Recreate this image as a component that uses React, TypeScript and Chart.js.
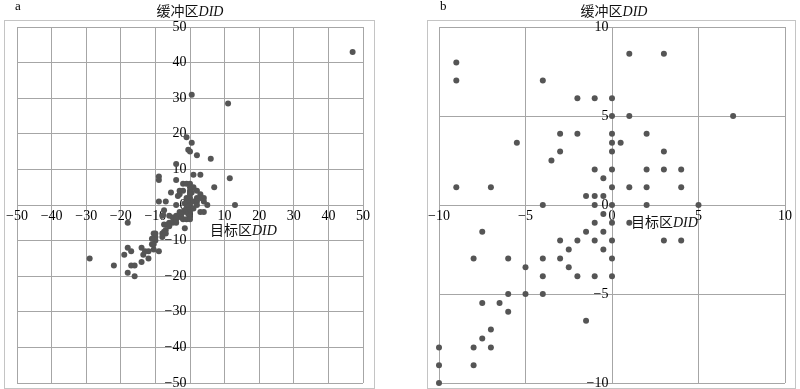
import React, { useEffect, useRef } from 'react';
import { Chart, registerables } from 'chart.js';

Chart.register(...registerables);

// Points inside the ±10 window (shown in both panels)
const innerX = [
  -9, -9, -4, -2, -1, 0, 1, 3, 0, 1, 7, -3, -2, 0, 2, -5.5, 0, 0.5, -3, 0, 3, -3.5,
  -1, 0, 2, 3, 4, -0.5, -9, -7, 0, 1, 2, 4, -1.5, -1, -0.5, -4, -1, 0, 2, 5,
  -0.5, -1, 0, 1, -7.5, -1.5, -0.5, -3, -2, -1, 0, 3, 4, -2.5, -0.5, -8, -6, -4, -3, 0,
  -5, -2.5, -4, -2, -1, 0, -6, -5, -4, -7.5, -6.5, -6, -1.5, -7, -7.5, -10, -8, -7, -10, -8, -10,
];
const innerY = [
  8, 7, 7, 6, 6, 6, 8.5, 8.5, 5, 5, 5, 4, 4, 4, 4, 3.5, 3.5, 3.5, 3, 3, 3, 2.5,
  2, 2, 2, 2, 2, 1.5, 1, 1, 1, 1, 1, 1, 0.5, 0.5, 0.5, 0, 0, 0, 0, 0,
  -0.5, -1, -1, -1, -1.5, -1.5, -1.5, -2, -2, -2, -2, -2, -2, -2.5, -2.5, -3, -3, -3, -3, -3,
  -3.5, -3.5, -4, -4, -4, -4, -5, -5, -5, -5.5, -5.5, -6, -6.5, -7, -7.5, -8, -8, -8, -9, -9, -10,
];
// Points outside the ±10 window (panel a only)
const outerX = [
  47, 0.5, 11, -1, 0.5, -0.5, 0, 2, 6, -4, 11.5, 13, -29, -22, -18, -18, -19, -17,
  -18, -17, -16, -16, -14, -14, -13, -12, -12, -10.5, -9, -11, -10.5, -11, -10.5, -13.5,
];
const outerY = [
  43, 31, 28.5, 19, 17.5, 15.5, 15, 14, 13, 11.5, 7.5, 0, -15, -17, -5, -12, -14, -13,
  -19, -17, -17, -20, -16, -12, -13, -13, -15, -12.5, -13, -11, -8, -9.5, -11, -14,
];

const rangeA = 50;
const stepA = 10;
const rangeB = 10;
const stepB = 5;

const panelLetters = ['a', 'b'];
const yTitle = '缓冲区';
const xTitle = '目标区';
const titleVar = 'DID';

const GRID = '#a6a6a6';
const POINT = '#555555';
const SERIF = '"Liberation Serif", "Times New Roman", serif';

function pts(xs: number[], ys: number[]) {
  return xs.map((x, i) => ({ x, y: ys[i] }));
}

function fmt(v: number) {
  return v < 0 ? '\u2212' + Math.abs(v) : String(v);
}

type PanelProps = {
  left: number;
  padLeft: number;
  padRight: number;
  range: number;
  step: number;
  data: { x: number; y: number }[];
};

function ScatterPanel({ left, padLeft, padRight, range, step, data }: PanelProps) {
  const ref = useRef<HTMLCanvasElement | null>(null);
  useEffect(() => {
    if (!ref.current) return;
    const tickFont = { family: SERIF, size: 14 };
    const chart = new Chart(ref.current, {
      type: 'scatter',
      data: {
        datasets: [
          {
            data,
            pointRadius: 3,
            pointBackgroundColor: POINT,
            pointBorderColor: POINT,
            pointBorderWidth: 0,
            clip: false,
          } as any,
        ],
      },
      options: {
        animation: false,
        responsive: false,
        maintainAspectRatio: false,
        layout: { padding: { left: padLeft, right: padRight, top: 27, bottom: 17 } },
        plugins: { legend: { display: false }, tooltip: { enabled: false } },
        scales: {
          x: {
            type: 'linear',
            position: { y: 0 } as any,
            min: -range,
            max: range,
            ticks: {
              stepSize: step,
              autoSkip: false,
              maxRotation: 0,
              padding: 3,
              color: '#000',
              font: tickFont,
              callback: (v: any) => fmt(Number(v)),
            },
            grid: { color: GRID, lineWidth: 1, drawTicks: false },
            border: { color: GRID, width: 1 },
          },
          y: {
            type: 'linear',
            position: { x: 0 } as any,
            min: -range,
            max: range,
            ticks: {
              stepSize: step,
              autoSkip: false,
              padding: 3,
              color: '#000',
              font: tickFont,
              callback: (v: any) => fmt(Number(v)) + ' ',
            },
            grid: { color: GRID, lineWidth: 1, drawTicks: false },
            border: { color: GRID, width: 1 },
          },
        },
      },
    });
    return () => chart.destroy();
  }, []);
  return (
    <canvas
      ref={ref}
      width={380}
      height={400}
      style={{ position: 'absolute', left, top: 0, width: 380, height: 400 }}
    />
  );
}

function Title({ text, left, top, width, center }: { text: string; left: number; top: number; width?: number; center?: boolean }) {
  return (
    <div
      style={{
        position: 'absolute',
        left,
        top,
        width,
        textAlign: center ? 'center' : 'left',
        fontSize: 14,
        lineHeight: '18px',
        whiteSpace: 'nowrap',
        color: '#111',
      }}
    >
      <span style={{ fontFamily: '"Noto Sans CJK SC", sans-serif' }}>{text}</span>
      <span style={{ fontFamily: SERIF, fontStyle: 'italic' }}>{titleVar}</span>
    </div>
  );
}

export default function App() {
  const dataA = pts(innerX, innerY).concat(pts(outerX, outerY));
  const dataB = pts(innerX, innerY);
  return (
    <div
      style={{
        position: 'fixed',
        left: 0,
        top: 0,
        width: 800,
        height: 389,
        overflow: 'hidden',
        background: '#fff',
      }}
    >
      <div style={{ position: 'absolute', left: 4, top: 20, width: 371, height: 369, border: '1px solid #c4c4c4', boxSizing: 'border-box' }} />
      <div style={{ position: 'absolute', left: 427, top: 20, width: 369, height: 369, border: '1px solid #c4c4c4', boxSizing: 'border-box' }} />
      <ScatterPanel left={0} padLeft={17} padRight={17} range={rangeA} step={stepA} data={dataA} />
      <ScatterPanel left={420} padLeft={19} padRight={15} range={rangeB} step={stepB} data={dataB} />
      <div style={{ position: 'absolute', left: 15, top: -2, fontFamily: SERIF, fontSize: 13 }}>{panelLetters[0]}</div>
      <div style={{ position: 'absolute', left: 440, top: -2, fontFamily: SERIF, fontSize: 13 }}>{panelLetters[1]}</div>
      <Title text={yTitle} left={90} top={1} width={200} center />
      <Title text={yTitle} left={514} top={1} width={200} center />
      <Title text={xTitle} left={210} top={220} />
      <Title text={xTitle} left={631} top={212} />
    </div>
  );
}
